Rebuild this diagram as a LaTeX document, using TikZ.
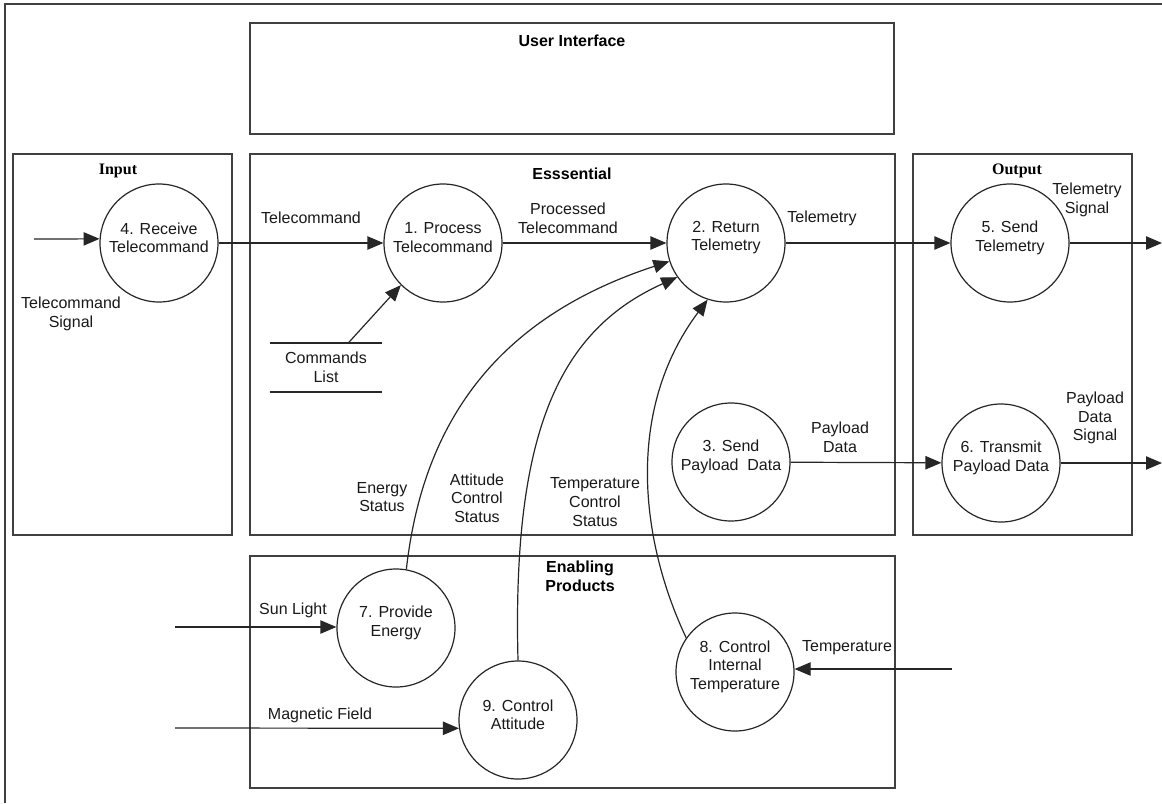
\documentclass[tikz,border=0pt]{standalone}
\usepackage{fontspec}
\setmainfont{Liberation Sans}
\newfontfamily\titleserif{Liberation Serif}
\usetikzlibrary{arrows.meta,calc}
\begin{document}
\begin{tikzpicture}[x=0.75pt,y=-0.75pt,
  line/.style={draw=black!85, line width=0.9pt},
  box/.style={draw=black!75, line width=1.1pt},
  proc/.style={circle, line, minimum size=88.5pt, inner sep=0pt},
  flow/.style={line, -{Triangle[length=12pt,width=10pt]}},
  lbl/.style={font=\fontsize{12}{14}\selectfont, align=center, inner sep=0pt, text=black!90},
  ttl/.style={font=\fontsize{12}{14}\selectfont\bfseries, align=center, inner sep=0pt},
  sttl/.style={font=\fontsize{12}{14}\selectfont\titleserif\bfseries, inner sep=0pt},
  ptext/.style={lbl, yshift=4pt}]
\useasboundingbox (0,0) rectangle (1162,803);
\fill[white] (0,0) rectangle (1162,803);
% outer frame (top and left only)
\draw[box] (5,803) -- (5,4) -- (1162,4);
% boundary boxes
\draw[box] (250,23) rectangle (894,134);
\draw[box] (13,154) rectangle (232,535);
\draw[box] (250,154) rectangle (895,535);
\draw[box] (913,154) rectangle (1132,535);
\draw[box] (250,556) rectangle (895,788);
% titles
\node[ttl] (tUI) at (572,41) {User Interface};
\node[sttl] (tIn) at (118,171) {Input};
\node[ttl] (tEs) at (572,174) {Esssential};
\node[sttl] (tOut) at (1017,171) {Output};
\node[ttl] (tEn) at (580,576) {Enabling\\Products};
% processes
\node[proc, label={[ptext]center:{4. Receive\\Telecommand}}] (p4) at (159,243) {};
\node[proc, label={[ptext]center:{1. Process\\Telecommand}}] (p1) at (443,243) {};
\node[proc, label={[ptext]center:{2. Return\\Telemetry}}] (p2) at (726,243) {};
\node[proc, label={[ptext]center:{5. Send\\Telemetry}}] (p5) at (1010,243) {};
\node[proc, label={[ptext]center:{3. Send\\Payload\ \ Data}}] (p3) at (731,462) {};
\node[proc, label={[ptext]center:{6. Transmit\\Payload Data}}] (p6) at (1001,463) {};
\node[proc, label={[ptext]center:{7. Provide\\Energy}}] (p7) at (396,628) {};
\node[proc, label={[ptext]center:{9. Control\\Attitude}}] (p9) at (518,720) {};
\node[proc, label={[ptext]center:{8. Control\\Internal\\Temperature}}] (p8) at (735,672) {};
% data store
\node[lbl, minimum width=84pt, minimum height=36.75pt] (cl) at (326,367.5) {Commands\\List};
\draw[line, line width=1.4pt] (cl.north west) -- (cl.north east);
\draw[line, line width=1.4pt] (cl.south west) -- (cl.south east);
% free ends
\coordinate (sTC) at (34,239);
\coordinate (eTM) at (1162,240);
\coordinate (ePD) at (1162,460);
\coordinate (sSun) at (175,627);
\coordinate (sMag) at (175,728);
\coordinate (sTemp) at (952,669);
% flows
\draw[flow] (sTC) -- (p4.176);
\draw[flow] (p4) -- (p1);
\draw[flow] (p1) -- (p2);
\draw[flow] (p2) -- (p5);
\draw[flow] (p5.east) -- (p5.east -| eTM);
\draw[flow] (p3) -- (p6);
\draw[flow] (p6.east) -- (p6.east -| ePD);
\draw[flow] ($(cl.north west)!0.7!(cl.north east)$) -- (p1.225);
\draw[flow] (sSun) -- (sSun -| p7.west);
\draw[flow] (sMag) -- (p9.188);
\draw[flow] (sTemp) -- (sTemp -| p8.east);
\draw[flow] (p7.80) .. controls (422,430) and (490,320) .. (p2.198);
\draw[flow] (p9.90) .. controls (512,430) and (560,330) .. (p2.215);
\draw[flow] (p8.145) .. controls (640,540) and (625,410) .. (p2.252);
% flow labels
\node[lbl] (lTCS) at (71,314) {Telecommand\\Signal};
\node[lbl] (lTC) at (311,218) {Telecommand};
\node[lbl] (lPTC) at (568,218) {Processed\\Telecommand};
\node[lbl] (lTM) at (822,218) {Telemetry};
\node[lbl] (lTMS) at (1087,200) {Telemetry\\Signal};
\node[lbl] (lPD) at (840,437) {Payload\\Data};
\node[lbl] (lPDS) at (1095,418) {Payload\\Data\\Signal};
\node[lbl] (lES) at (382,497) {Energy\\Status};
\node[lbl] (lACS) at (477,498) {Attitude\\Control\\Status};
\node[lbl] (lTCSt) at (595,502) {Temperature\\Control\\Status};
\node[lbl] (lSun) at (293,610) {Sun Light};
\node[lbl] (lMag) at (320,715) {Magnetic Field};
\node[lbl] (lTemp) at (847,648) {Temperature};
\end{tikzpicture}
\end{document}
